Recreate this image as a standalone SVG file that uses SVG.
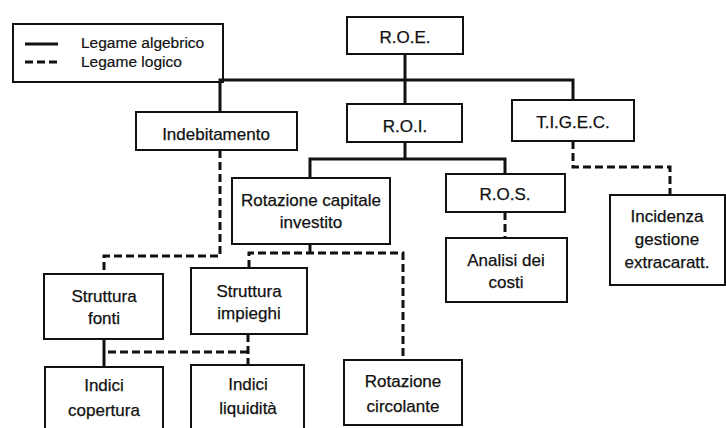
<svg xmlns="http://www.w3.org/2000/svg" width="726" height="428" viewBox="0 0 726 428">
<style>
.box{fill:#fff;stroke:#111;stroke-width:2}
.t{font-family:"Liberation Sans",Arial,sans-serif;font-size:17px;fill:#111;text-anchor:middle;stroke:#111;stroke-width:0.25}
.lt{font-family:"Liberation Sans",Arial,sans-serif;font-size:15.5px;fill:#111;stroke:#111;stroke-width:0.2}
.solid{fill:none;stroke:#111;stroke-width:3}
.dash{fill:none;stroke:#111;stroke-width:3;stroke-dasharray:8 4}
</style>
<rect width="726" height="428" fill="#fff"/>
<g id="legend">
<rect class="box" x="13" y="24" width="210" height="58"/>
<line class="solid" x1="25" y1="44" x2="58" y2="44"/>
<line class="dash" x1="25" y1="62" x2="58" y2="62" stroke-dasharray="8 3"/>
<text class="lt" x="81" y="48">Legame algebrico</text>
<text class="lt" x="81" y="67">Legame logico</text>
</g>
<g id="connectors">
<path class="solid" d="M405 54V80M220 112V80H573V100M405 80V104"/>
<path class="solid" d="M405 142V159M310 178V159H505V174"/>
<path class="dash" d="M505 212V238"/>
<path class="dash" d="M573 141V167H670V195"/>
<path class="dash" d="M220 150V256H104V274"/>
<path class="dash" d="M310 244V253M249 268V253H403V360"/>
<path class="solid" d="M104 339V367"/>
<path class="dash" d="M248 334V365M248 352H106"/>
</g>
<g id="roe"><rect class="box" x="347" y="17" width="116" height="37"/><text class="t" x="405" y="43">R.O.E.</text></g>
<g id="indebitamento"><rect class="box" x="136" y="112" width="161" height="38"/><text class="t" x="216" y="140">Indebitamento</text></g>
<g id="roi"><rect class="box" x="347" y="104" width="115" height="38"/><text class="t" x="405" y="132">R.O.I.</text></g>
<g id="tigec"><rect class="box" x="512" y="100" width="122" height="41"/><text class="t" x="573" y="128">T.I.G.E.C.</text></g>
<g id="rci"><rect class="box" x="232" y="178" width="158" height="66"/><text class="t" x="311" y="206">Rotazione capitale</text><text class="t" x="311" y="228">investito</text></g>
<g id="ros"><rect class="box" x="446" y="174" width="119" height="38"/><text class="t" x="505" y="200">R.O.S.</text></g>
<g id="incidenza"><rect class="box" x="610" y="195" width="115" height="90"/><text class="t" x="667" y="222">Incidenza</text><text class="t" x="667" y="245">gestione</text><text class="t" x="667" y="268">extracaratt.</text></g>
<g id="analisi"><rect class="box" x="446" y="238" width="121" height="64"/><text class="t" x="506" y="266">Analisi dei</text><text class="t" x="506" y="288">costi</text></g>
<g id="sfonti"><rect class="box" x="44" y="274" width="119" height="65"/><text class="t" x="104" y="302">Struttura</text><text class="t" x="104" y="324">fonti</text></g>
<g id="simpieghi"><rect class="box" x="191" y="268" width="116" height="66"/><text class="t" x="249" y="297">Struttura</text><text class="t" x="249" y="319">impieghi</text></g>
<g id="icopertura"><rect class="box" x="45" y="367" width="118" height="70"/><text class="t" x="104" y="391">Indici</text><text class="t" x="104" y="416">copertura</text></g>
<g id="iliquidita"><rect class="box" x="191" y="365" width="113" height="72"/><text class="t" x="248" y="390">Indici</text><text class="t" x="248" y="414">liquidità</text></g>
<g id="rcircolante"><rect class="box" x="344" y="360" width="118" height="65"/><text class="t" x="403" y="387">Rotazione</text><text class="t" x="403" y="412">circolante</text></g>
</svg>
